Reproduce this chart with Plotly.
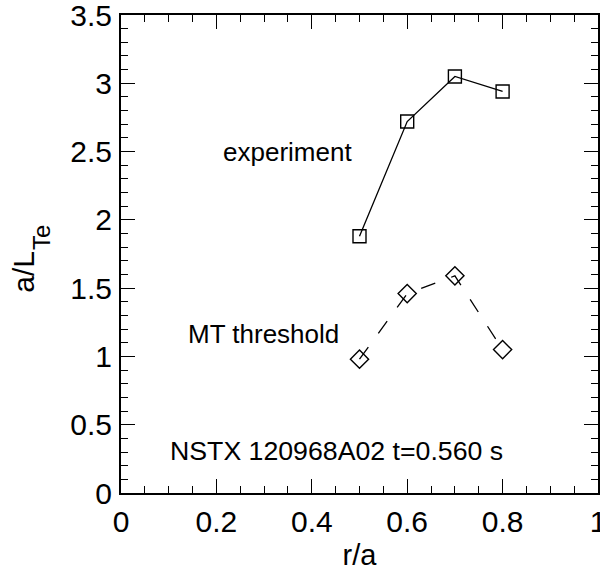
import plotly.graph_objects as go

r_exp = [0.5, 0.6, 0.7, 0.8]
aLTe_exp = [1.88, 2.72, 3.05, 2.94]
r_mt = [0.5, 0.6, 0.7, 0.8]
aLTe_mt = [0.98, 1.46, 1.59, 1.05]

x_ticks = [0, 0.2, 0.4, 0.6, 0.8, 1]
x_ticklabels = ["0", "0.2", "0.4", "0.6", "0.8", "1"]
y_ticks = [0, 0.5, 1, 1.5, 2, 2.5, 3, 3.5]
y_ticklabels = ["0", "0.5", "1", "1.5", "2", "2.5", "3", "3.5"]

FONT = "Liberation Sans, Arial, Helvetica, sans-serif"

fig = go.Figure()
fig.add_trace(go.Scatter(
    x=r_exp, y=aLTe_exp, mode="lines+markers",
    line=dict(color="black", width=1.3),
    marker=dict(symbol="square-open", size=13, color="black", line=dict(width=1.4, color="black")),
    showlegend=False, cliponaxis=False,
))
fig.add_trace(go.Scatter(
    x=r_mt, y=aLTe_mt, mode="lines+markers",
    line=dict(color="black", width=1.3, dash="15px,17px"),
    marker=dict(symbol="diamond-open", size=14, color="black", line=dict(width=1.4, color="black")),
    showlegend=False, cliponaxis=False,
))

fig.add_annotation(x=0.35, y=2.50, text="experiment", showarrow=False,
                   xanchor="center", yanchor="middle", font=dict(size=26, color="black", family=FONT))
fig.add_annotation(x=0.298, y=1.163, text="MT threshold", showarrow=False,
                   xanchor="center", yanchor="middle", font=dict(size=26, color="black", family=FONT))
fig.add_annotation(x=0.452, y=0.306, text="NSTX 120968A02 t=0.560 s", showarrow=False,
                   xanchor="center", yanchor="middle", font=dict(size=26.7, color="black", family=FONT))

# y-axis title a/L_Te (large subscript, drawn as two rotated texts)
fig.add_annotation(xref="paper", yref="paper", x=0, y=0, xshift=-97.5, yshift=220.7,
                   text="a/L", textangle=-90, showarrow=False,
                   xanchor="center", yanchor="middle", font=dict(size=30, color="black", family=FONT))
fig.add_annotation(xref="paper", yref="paper", x=0, y=0, xshift=-79.4, yshift=255.5,
                   text="Te", textangle=-90, showarrow=False,
                   xanchor="center", yanchor="middle", font=dict(size=24, color="black", family=FONT))

axis_common = dict(
    showgrid=False, zeroline=False, showline=True, linecolor="black", linewidth=2,
    mirror="ticks", ticks="inside", ticklen=14, tickwidth=1.3, tickcolor="black",
    tickfont=dict(size=30, color="black", family=FONT),
    ticklabeloverflow="allow",
)
fig.update_xaxes(
    range=[0, 1.000001], tickvals=x_ticks, ticktext=x_ticklabels,
    minor=dict(dtick=0.05, ticks="inside", ticklen=7, tickwidth=1.3, tickcolor="black"),
    title=dict(text="r/a", font=dict(size=29, color="black", family=FONT), standoff=10),
    ticklabelstandoff=1,
    **axis_common,
)
fig.update_yaxes(
    range=[0, 3.500001], tickvals=y_ticks, ticktext=y_ticklabels,
    minor=dict(dtick=0.1, ticks="inside", ticklen=7, tickwidth=1.3, tickcolor="black"),
    ticklabelstandoff=1,
    **axis_common,
)
fig.update_layout(
    width=600, height=571,
    margin=dict(l=121, r=2, t=15, b=78, autoexpand=False),
    paper_bgcolor="white", plot_bgcolor="white",
    font=dict(family=FONT, color="black"),
)
fig.write_html("out.html")
